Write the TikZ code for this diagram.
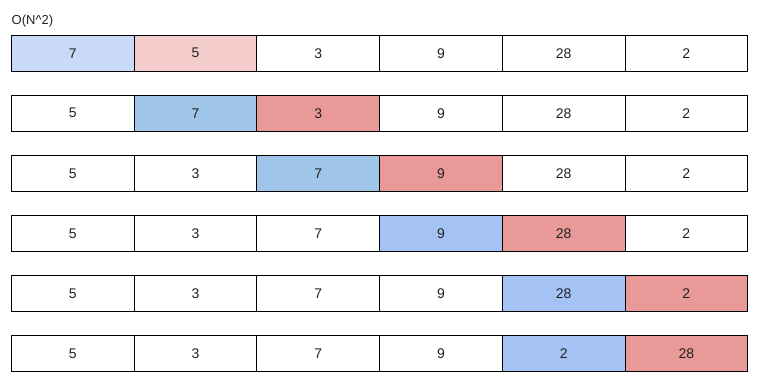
\documentclass[tikz,border=0pt]{standalone}
\usepackage{fontspec}
\setmainfont{Liberation Sans}
\definecolor{lblue}{HTML}{C9DAF8}
\definecolor{lpink}{HTML}{F4CCCC}
\definecolor{mblue}{HTML}{9FC5E8}
\definecolor{cblue}{HTML}{A4C2F4}
\definecolor{mred}{HTML}{EA9999}
\definecolor{txt}{HTML}{222222}
\begin{document}
\begin{tikzpicture}[x=1pt,y=-1pt,
  cell/.style={draw=black,line width=1pt,minimum width=122.7pt,minimum height=36.5pt,inner sep=0pt,anchor=north west,font=\fontsize{14}{16}\selectfont,text=txt}]
\useasboundingbox (0,0) rectangle (771,391);
\node[anchor=west,inner sep=0pt,font=\fontsize{13}{15}\selectfont,text=txt] (title) at (11.5,21) {O(N\^{}2)};
\foreach \r/\vals/\bi/\bc/\ri/\rc in {
  0/{7,5,3,9,28,2}/1/lblue/2/lpink,
  1/{5,7,3,9,28,2}/2/mblue/3/mred,
  2/{5,3,7,9,28,2}/3/mblue/4/mred,
  3/{5,3,7,9,28,2}/4/cblue/5/mred,
  4/{5,3,7,9,28,2}/5/cblue/6/mred,
  5/{5,3,7,9,2,28}/5/cblue/6/mred}{
  \foreach \v [count=\c] in \vals {
    \ifnum\c=\bi \def\fc{\bc}\else\ifnum\c=\ri \def\fc{\rc}\else\def\fc{white}\fi\fi
    \node[cell,fill=\fc] (c-\r-\c) at ({11+(\c-1)*122.7},{34.5+60*\r}) {\v};
  }
}
\end{tikzpicture}
\end{document}
